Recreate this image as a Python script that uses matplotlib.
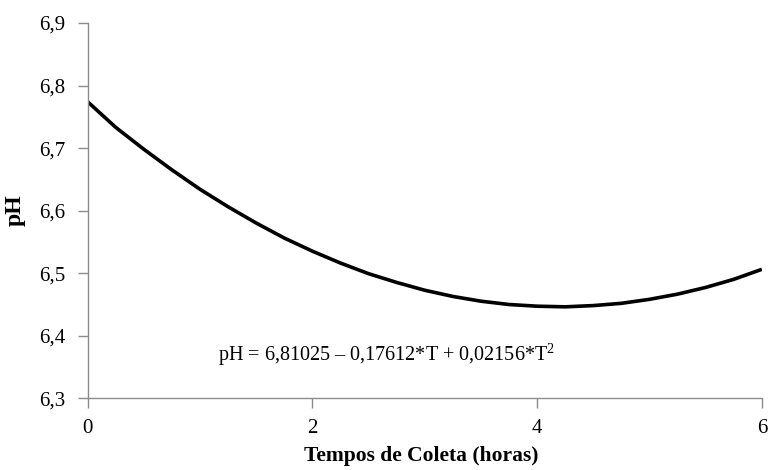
import numpy as np
import matplotlib
matplotlib.use("Agg")
import matplotlib.pyplot as plt

# pH, every quarter hour
tempo = [0, 0.25, 0.5, 0.75, 1, 1.25, 1.5, 1.75, 2, 2.25, 2.5, 2.75, 3,
         3.25, 3.5, 3.75, 4, 4.25, 4.5, 4.75, 5, 5.25, 5.5, 5.75, 6]
ph = [6.774, 6.733, 6.698, 6.665, 6.634, 6.606, 6.580, 6.556, 6.535, 6.516,
      6.499, 6.485, 6.4725, 6.4626, 6.455, 6.4497, 6.447, 6.446, 6.448, 6.4516,
      6.458, 6.4663, 6.477, 6.490, 6.506]

xticks = [0, 2, 4, 6]
yticks = [6.3, 6.4, 6.5, 6.6, 6.7, 6.8, 6.9]
equacao = r"pH = 6,81025 – 0,17612*T + 0,02156*T$^{2}$"

plt.rcParams['font.family'] = ['Liberation Serif', 'DejaVu Serif']
plt.rcParams['mathtext.fontset'] = 'custom'
plt.rcParams['mathtext.rm'] = 'Liberation Serif'

fig = plt.figure(figsize=(7.68, 4.70), dpi=100)
ax = fig.add_axes([0.1142, 0.153, 0.992 - 0.1142, 0.951 - 0.153])

ax.plot(tempo, ph, color='black', linewidth=2.6, solid_capstyle='butt')

ax.set_xlim(0, 6)
ax.set_ylim(6.3, 6.9)
ax.set_xticks(xticks)
ax.set_yticks(yticks)
ax.set_xticklabels([str(v) for v in xticks])
ax.set_yticklabels([("%.1f" % v).replace('.', ',') for v in yticks])

grey = '#8c8c8c'
for s in ['top', 'right']:
    ax.spines[s].set_visible(False)
for s in ['left', 'bottom']:
    ax.spines[s].set_color(grey)
    ax.spines[s].set_linewidth(1.0)
ax.tick_params(axis='both', direction='out', length=7, width=1.0, color=grey,
               labelsize=15, labelcolor='black')
ax.tick_params(axis='y', pad=9)
ax.tick_params(axis='x', pad=8)

ax.set_ylabel('pH', fontsize=17, fontweight='bold')
ax.yaxis.set_label_coords(-0.092, 0.5)
ax.set_xlabel('Tempos de Coleta (horas)', fontsize=15.5, fontweight='bold')
ax.xaxis.set_label_coords(0.495, -0.128)

ax.text(0.194, 0.115, equacao, transform=ax.transAxes, ha='left', va='center',
        fontsize=14.5, color='black')

fig.savefig('out.png', dpi=100)
